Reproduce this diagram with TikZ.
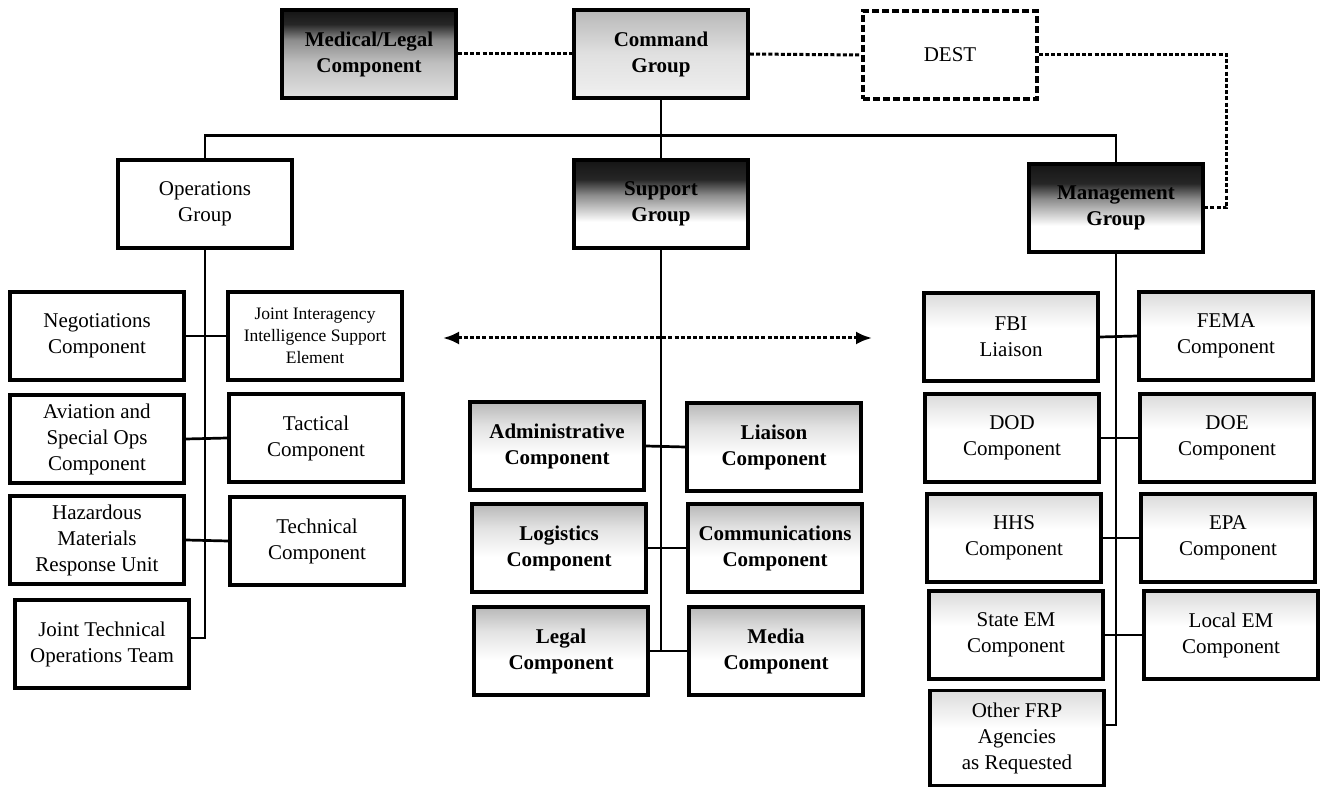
\documentclass[tikz,border=0pt]{standalone}
\usepackage{fontspec}
\setmainfont{Liberation Serif}
\usetikzlibrary{arrows.meta}
\pgfdeclareverticalshading{darkshade}{100bp}{color(0bp)=(white); color(25bp)=(white); color(40bp)=(white); color(55bp)=(black!45); color(64bp)=(black!85); color(75bp)=(black!92); color(100bp)=(black!92)}
\pgfdeclareverticalshading{medshade}{100bp}{color(0bp)=(black!12); color(25bp)=(black!12); color(45bp)=(black!25); color(58bp)=(black!45); color(67bp)=(black!85); color(75bp)=(black!92); color(100bp)=(black!92)}
\pgfdeclareverticalshading{cmdshade}{100bp}{color(0bp)=(black!6); color(25bp)=(black!6); color(50bp)=(black!12); color(75bp)=(black!28); color(100bp)=(black!28)}
\pgfdeclareverticalshading{supcomp}{100bp}{color(0bp)=(white); color(25bp)=(white); color(45bp)=(white); color(62bp)=(black!12); color(75bp)=(black!28); color(100bp)=(black!28)}
\pgfdeclareverticalshading{mgtcomp}{100bp}{color(0bp)=(white); color(25bp)=(white); color(55bp)=(white); color(75bp)=(black!14); color(100bp)=(black!14)}
\tikzset{
  box/.style={draw=black, line width=3.6pt, minimum width=174pt, minimum height=88pt, inner sep=0pt, align=center, font=\fontsize{21}{26}\selectfont},
  smalltext/.style={font=\fontsize{17.5}{22}\selectfont},
  boldtext/.style={font=\fontsize{21}{26}\selectfont\bfseries},
  darkbox/.style={box, shading=darkshade, boldtext},
  medbox/.style={box, shading=medshade, boldtext},
  cmdbox/.style={box, shading=cmdshade, boldtext},
  supbox/.style={box, shading=supcomp, boldtext},
  mgtbox/.style={box, shading=mgtcomp},
  destbox/.style={box, fill=white, dash pattern=on 7pt off 3pt},
  link/.style={line width=2.7pt},
  dotlink/.style={line width=3pt, dash pattern=on 4pt off 2.2pt},
}
\begin{document}
\begin{tikzpicture}[x=1pt,y=-1pt]
\useasboundingbox (0,0) rectangle (1323,791);
\fill[white] (0,0) rectangle (1323,791);
% top row
\node[medbox] (med) at (369,54) {Medical/Legal\\Component};
\node[cmdbox] (cmd) at (661,54) {Command\\Group};
\node[destbox] (dest) at (950,55) {DEST};
% groups
\node[box] (ops) at (205,204) {Operations\\Group};
\node[darkbox] (sup) at (661,204) {Support\\Group};
\node[darkbox] (mgt) at (1116,208) {Management\\Group};
% operations components
\node[box] (neg) at (97,336) {Negotiations\\Component};
\node[box, smalltext] (jiise) at (315,336) {Joint Interagency\\Intelligence Support\\Element};
\node[box] (avi) at (97,439) {Aviation and\\Special Ops\\Component};
\node[box] (tac) at (316,438) {Tactical\\Component};
\node[box] (haz) at (97,540) {Hazardous\\Materials\\Response Unit};
\node[box] (tech) at (317,541) {Technical\\Component};
\node[box] (jtot) at (102,644) {Joint Technical\\Operations Team};
% support components
\node[supbox] (adm) at (557,446) {Administrative\\Component};
\node[supbox] (lia) at (774,447) {Liaison\\Component};
\node[supbox] (log) at (559,548) {Logistics\\Component};
\node[supbox] (com) at (775,548) {Communications\\Component};
\node[supbox] (leg) at (561,651) {Legal\\Component};
\node[supbox] (med2) at (776,651) {Media\\Component};
% management components
\node[mgtbox] (fbi) at (1011,337) {FBI\\Liaison};
\node[mgtbox] (fema) at (1226,336) {FEMA\\Component};
\node[mgtbox] (dod) at (1012,438) {DOD\\Component};
\node[mgtbox] (doe) at (1227,438) {DOE\\Component};
\node[mgtbox] (hhs) at (1014,538) {HHS\\Component};
\node[mgtbox] (epa) at (1228,538) {EPA\\Component};
\node[mgtbox] (sem) at (1016,635) {State EM\\Component};
\node[mgtbox] (lem) at (1231,635) {Local EM\\Component};
\node[mgtbox, minimum height=95pt] (frp) at (1017,738) {Other FRP\\Agencies\\as Requested};
% top dotted links
\draw[dotlink] (med.east) -- (cmd.west);
\draw[dotlink] (cmd.east) -- (dest.west);
\draw[dotlink] (dest.east) -- ++(188,0) |- (mgt.east);
% command to groups
\draw[link] (cmd.south) -- (sup.north);
\draw[link] (ops.north) -- ++(0,-23) -| (mgt.north);
% operations tree
\draw[link] (ops.south) |- ([yshift=6pt]jtot.east);
\draw[link] (neg.east) -- (jiise.west);
\draw[link] (avi.east) -- (tac.west);
\draw[link] (haz.east) -- (tech.west);
% support tree
\draw[link] (sup.south) -- (sup.south |- leg.east);
\draw[link] (adm.east) -- (lia.west);
\draw[link] (log.east) -- (com.west);
\draw[link] (leg.east) -- (med2.west);
% management tree
\draw[link] (mgt.south) |- ([yshift=13pt]frp.east);
\draw[link] (fbi.east) -- (fema.west);
\draw[link] (dod.east) -- (doe.west);
\draw[link] (hhs.east) -- (epa.west);
\draw[link] (sem.east) -- (lem.west);
% coordination arrow
\coordinate (arL) at (443,338);
\coordinate (arR) at (872,338);
\draw[dotlink, {Latex[length=16pt,width=13pt]}-{Latex[length=16pt,width=13pt]}] (arL) -- (arR);
\end{tikzpicture}
\end{document}
